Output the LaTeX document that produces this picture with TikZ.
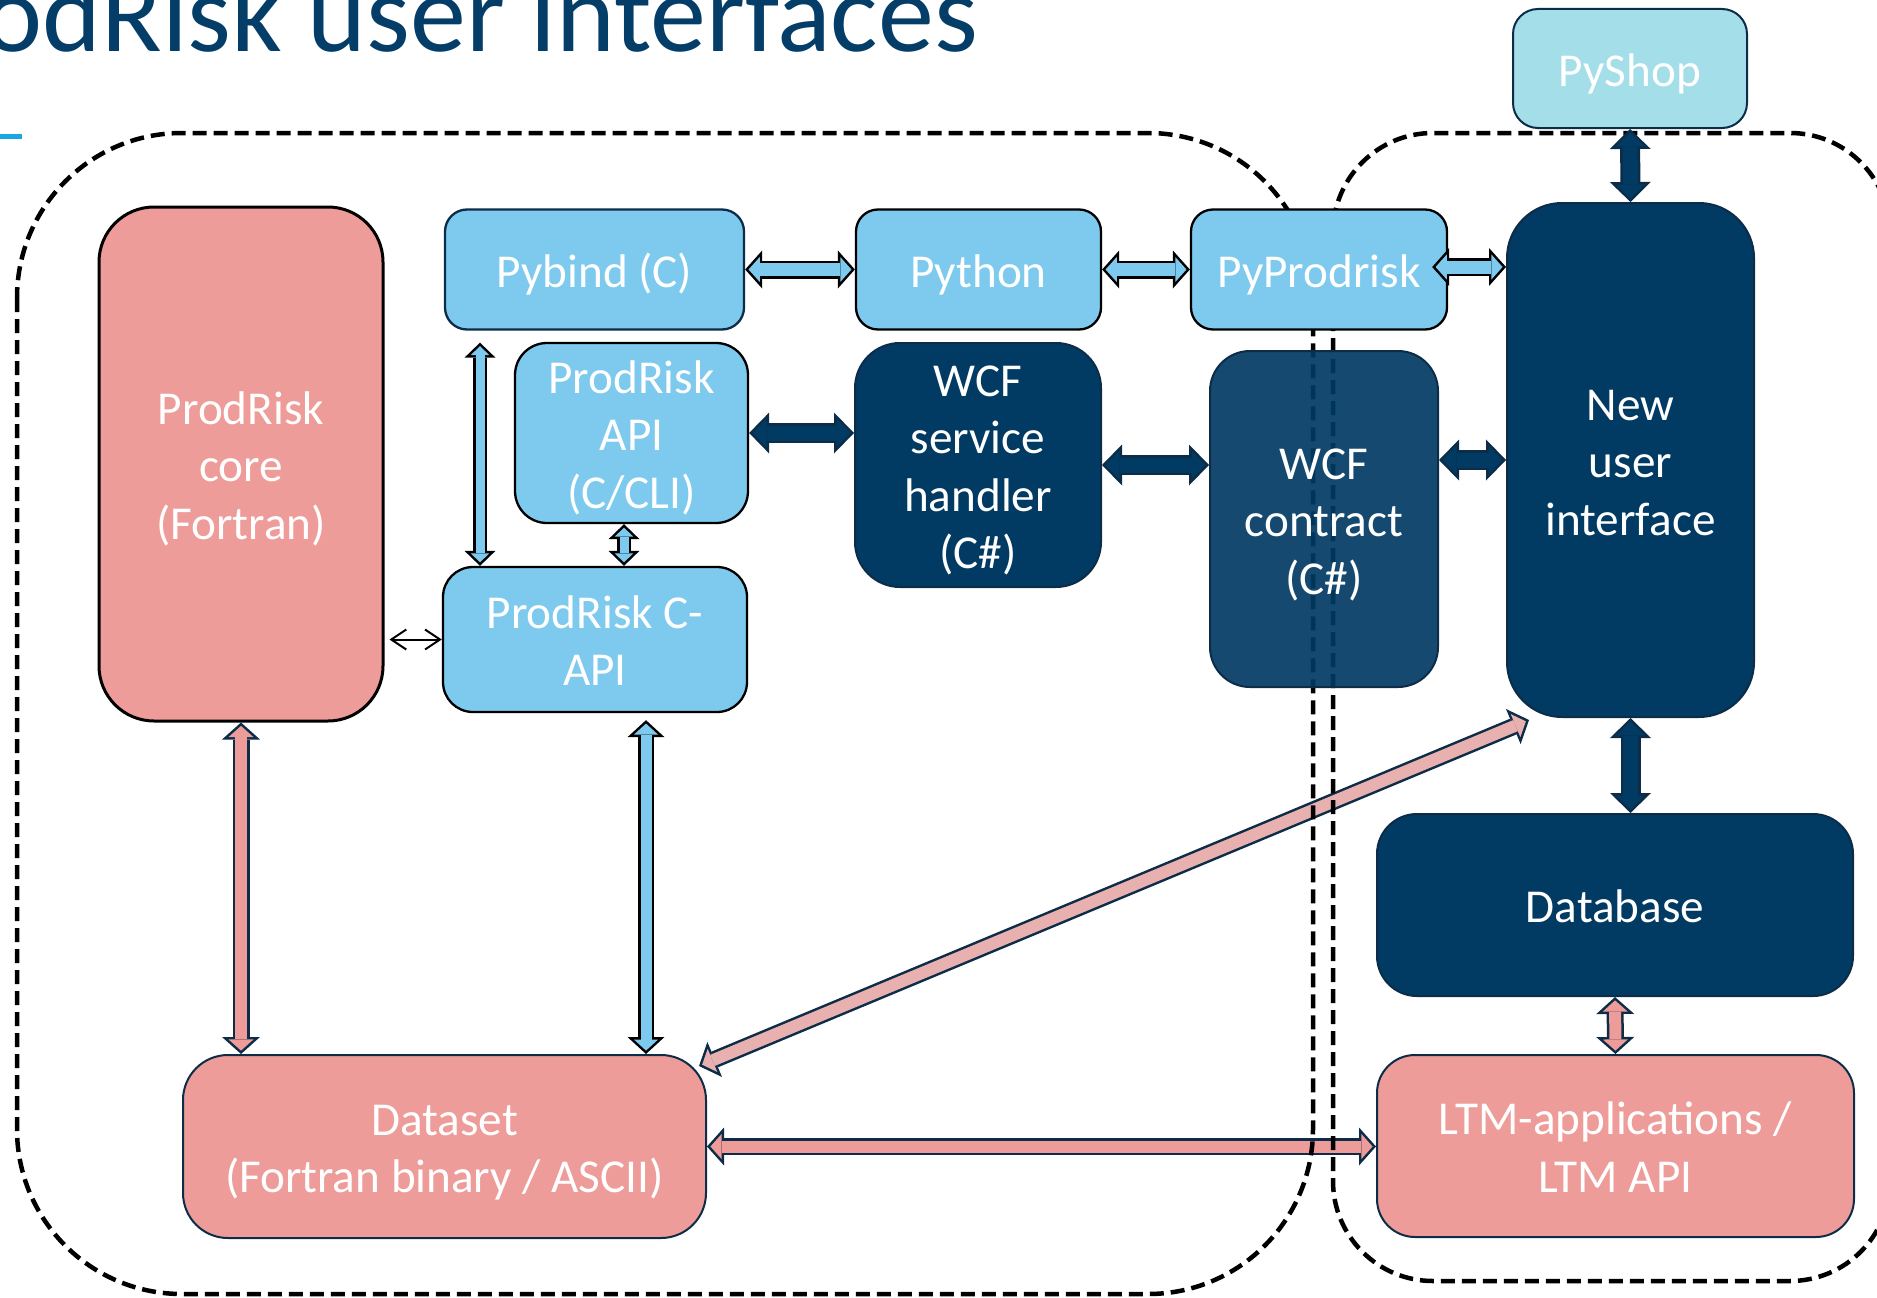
\documentclass[tikz,border=0pt]{standalone}
\usepackage{fontspec}
\usepackage{array}
\setmainfont{Carlito}
\usetikzlibrary{arrows.meta}
\definecolor{boxblue}{RGB}{125,202,238}
\definecolor{shopblue}{RGB}{163,222,233}
\definecolor{navy}{RGB}{1,58,99}
\definecolor{navyline}{RGB}{12,44,72}
\definecolor{salmon}{RGB}{238,156,153}
\definecolor{rose}{RGB}{232,176,175}
\definecolor{titleblue}{RGB}{3,61,104}
\definecolor{accent}{RGB}{26,167,223}
\setlength{\extrarowheight}{30.7pt}
\renewcommand{\arraystretch}{0.652}
\pgfdeclarelayer{back}
\pgfdeclarelayer{frame}
\pgfsetlayers{back,frame,main}

\begin{document}
\begin{tikzpicture} [x=1pt, y=-1pt,
      box/.style={rectangle, text=white, inner sep=0pt, font=\fontsize{47.2pt}{57.5pt}\selectfont},
      bluebox/.style={box, fill=boxblue, draw=black, line width=2.3pt, rounded corners=22pt},
      navybox/.style={box, fill=navy, draw=navyline, line width=2pt},
      salmonbox/.style={box, fill=salmon, draw=navyline, line width=2pt},
      region/.style={draw=black, line width=4.5pt, dash pattern=on 14pt off 7pt},
      bluelink/.style={draw=black, line width=18pt,
         {Triangle[length=17pt,width=38pt,line width=0pt]}-{Triangle[length=17pt,width=38pt,line width=0pt]},
         postaction={draw=boxblue, line width=13pt, shorten <=3.4pt, shorten >=3.4pt,
         {Triangle[length=11.2pt,width=25pt,line width=0pt]}-{Triangle[length=11.2pt,width=25pt,line width=0pt]}}},
      thinblue/.style={draw=black, line width=14pt,
         {Triangle[length=15pt,width=31pt,line width=0pt]}-{Triangle[length=15pt,width=31pt,line width=0pt]},
         postaction={draw=boxblue, line width=9pt, shorten <=3.5pt, shorten >=3.5pt,
         {Triangle[length=9pt,width=18.6pt,line width=0pt]}-{Triangle[length=9pt,width=18.6pt,line width=0pt]}}},
      longblue/.style={draw=black, line width=16pt,
         {Triangle[length=17pt,width=37pt,line width=0pt]}-{Triangle[length=17pt,width=37pt,line width=0pt]},
         postaction={draw=boxblue, line width=11pt, shorten <=3.4pt, shorten >=3.4pt,
         {Triangle[length=11.1pt,width=24.2pt,line width=0pt]}-{Triangle[length=11.1pt,width=24.2pt,line width=0pt]}}},
      navylink/.style={draw=navyline, line width=20pt,
         {Triangle[length=20pt,width=41pt,line width=0pt]}-{Triangle[length=20pt,width=41pt,line width=0pt]},
         postaction={draw=navy, line width=15pt, shorten <=3.5pt, shorten >=3.5pt,
         {Triangle[length=14pt,width=28.7pt,line width=0pt]}-{Triangle[length=14pt,width=28.7pt,line width=0pt]}}},
      pinklink/.style={draw=navyline, line width=17pt,
         {Triangle[length=17pt,width=38pt,line width=0pt]}-{Triangle[length=17pt,width=38pt,line width=0pt]},
         postaction={draw=#1, line width=12pt, shorten <=3.4pt, shorten >=3.4pt,
         {Triangle[length=11.2pt,width=25pt,line width=0pt]}-{Triangle[length=11.2pt,width=25pt,line width=0pt]}}},
      pinklink/.default=salmon,
      thinlink/.style={draw=black, line width=2pt,
         {Straight Barb[length=15pt,width=20pt]}-{Straight Barb[length=15pt,width=20pt]}}
   ]
    \useasboundingbox (0,0) rectangle (1877,1298);

    \node[anchor=base east, inner sep=0pt, text=titleblue, font=\fontsize{112pt}{130pt}\selectfont] (ndTitle) at (978,52) {odRisk user interfaces};
    \draw[accent, line width=5pt] (0,136) -- (22,136);

    % left column
    \node[salmonbox, draw=black, line width=3pt, rounded corners=55pt, minimum width=284pt, minimum height=514pt] (ndCore) at (241,464) {
      \begin{tabular}{@{}c@{}}
        ProdRisk \\ core \\ (Fortran)
      \end{tabular}
    };
    \node[bluebox, draw=navyline, minimum width=299pt, minimum height=120pt] (ndPybind) at (594.5,269.5) {
      \begin{tabular}{@{}c@{}}
        Pybind (C)
      \end{tabular}
    };
    \node[bluebox, rounded corners=32pt, minimum width=233pt, minimum height=180pt] (ndProdApi) at (631.5,433) {
      \begin{tabular}{@{}c@{}}
        ProdRisk \\ API \\ (C/CLI)
      \end{tabular}
    };
    \node[bluebox, rounded corners=30pt, minimum width=304pt, minimum height=145pt] (ndCApi) at (595,639.5) {
      \begin{tabular}{@{}c@{}}
        ProdRisk C- \\ API
      \end{tabular}
    };
    \node[salmonbox, rounded corners=45pt, minimum width=523pt, minimum height=183pt] (ndDataset) at (444.5,1146.5) {
      \begin{tabular}{@{}c@{}}
        Dataset \\ (Fortran binary / ASCII)
      \end{tabular}
    };

    % middle
    \node[bluebox, minimum width=245pt, minimum height=120pt] (ndPython) at (978.5,269.5) {
      \begin{tabular}{@{}c@{}}
        Python
      \end{tabular}
    };
    \node[bluebox, minimum width=256pt, minimum height=120pt] (ndPyProd) at (1319,269.5) {
      \begin{tabular}{@{}c@{}}
        PyProdrisk
      \end{tabular}
    };
    \node[navybox, rounded corners=45pt, minimum width=246pt, minimum height=244pt] (ndWcfH) at (978,465) {
      \begin{tabular}{@{}c@{}}
        WCF \\ service \\ handler \\ (C\#)
      \end{tabular}
    };
    \node[navybox, fill opacity=0.92, text opacity=1, rounded corners=40pt, minimum width=228pt, minimum height=336pt] (ndWcfC) at (1324,519) {
      \begin{tabular}{@{}c@{}}
        WCF \\ contract \\ (C\#)
      \end{tabular}
    };

    % right column
    \node[box, fill=shopblue, draw=navyline, line width=2pt, rounded corners=25pt, minimum width=234pt, minimum height=119pt] (ndPyShop) at (1630,68.5) {
      \begin{tabular}{@{}c@{}}
        PyShop
      \end{tabular}
    };
    \node[navybox, rounded corners=55pt, minimum width=247pt, minimum height=514pt] (ndNewUI) at (1630.5,460) {
      \begin{tabular}{@{}c@{}}
        New \\ user \\ interface
      \end{tabular}
    };
    \node[navybox, rounded corners=40pt, minimum width=476pt, minimum height=182pt] (ndDatabase) at (1615,905) {
      \begin{tabular}{@{}c@{}}
        Database
      \end{tabular}
    };
    \node[salmonbox, rounded corners=38pt, minimum width=477pt, minimum height=182pt] (ndLtm) at (1615.5,1146) {
      \begin{tabular}{@{}c@{}}
        LTM-applications / \\ LTM API
      \end{tabular}
    };

    \coordinate (hTop) at ([xshift=-114.5pt,yshift=-12pt]ndPybind.south);
    \coordinate (iTop) at ([xshift=-7.5pt]ndProdApi.south);
    \coordinate (lTop) at ([xshift=51pt,yshift=-7pt]ndCApi.south);
    \coordinate (cLeft) at ([xshift=-16pt,yshift=2.5pt]ndPyProd.east);
    \coordinate (mLow) at ([xshift=-8pt,yshift=-12pt]ndDataset.north east);
    \coordinate (mHigh) at ([xshift=23pt,yshift=-2pt]ndNewUI.south west);

    % the two areas
    \begin{pgfonlayer}{frame}
      \draw[region, rounded corners=165pt] (17,133) rectangle (1313,1294);
      \draw[region, rounded corners=100pt] (1333,133) rectangle (1890,1281);
    \end{pgfonlayer}

    \begin{pgfonlayer}{back}
      \draw[pinklink=rose] (mLow) -- (mHigh);
      \draw[pinklink] (ndDataset.east) -- (ndDataset.east -| ndLtm.west);
    \end{pgfonlayer}

    \draw[bluelink] (ndPybind.east) -- (ndPython.west);
    \draw[bluelink] (ndPython.east) -- (ndPyProd.west);
    \draw[bluelink] (cLeft) -- (cLeft -| ndNewUI.west);
    \draw[thinblue] (hTop) -- (hTop |- ndCApi.north);
    \draw[thinblue] (iTop) -- (iTop |- ndCApi.north);
    \draw[longblue] (lTop) -- (lTop |- ndDataset.north);
    \draw[thinlink, shorten <=5pt] (ndCApi.west -| ndCore.east) -- (ndCApi.west);

    \draw[navylink] (ndPyShop.south) -- (ndNewUI.north);
    \draw[navylink] (ndProdApi.east) -- (ndProdApi.east -| ndWcfH.west);
    \draw[navylink] (ndWcfH.east) -- (ndWcfH.east -| ndWcfC.west);
    \draw[navylink] (ndNewUI.west -| ndWcfC.east) -- (ndNewUI.west);
    \draw[navylink] (ndNewUI.south) -- (ndNewUI.south |- ndDatabase.north);

    \draw[pinklink] (ndCore.south) -- (ndCore.south |- ndDataset.north);
    \draw[pinklink] (ndDatabase.south) -- (ndLtm.north);

  \end{tikzpicture}
\end{document}
